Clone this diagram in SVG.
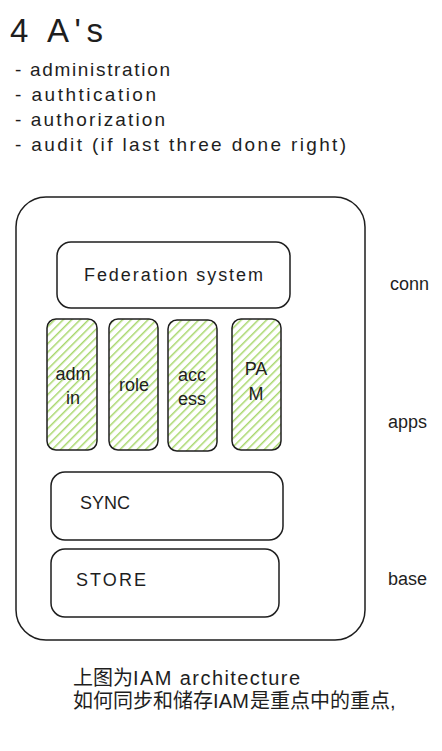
<svg xmlns="http://www.w3.org/2000/svg" width="442" height="751" viewBox="0 0 442 751">
<defs>
<pattern id="hatch" patternUnits="userSpaceOnUse" width="6" height="6" patternTransform="rotate(45)">
<rect width="6" height="6" fill="#ffffff"/>
<line x1="0" y1="0" x2="0" y2="6" stroke="#a9d86e" stroke-width="3"/>
</pattern>
</defs>
<style>
.box{fill:#ffffff;stroke:#1e1e1e;stroke-width:1.5}
.app{fill:url(#hatch);stroke:#1e1e1e;stroke-width:1.5}
text{font-family:"Liberation Sans","Noto Sans CJK SC",sans-serif;fill:#1e1e1e}
.t{font-size:18px}
.l{font-size:19px}
.c{text-anchor:middle}
.n{font-size:20px}
</style>
<rect width="442" height="751" fill="#ffffff"/>
<g id="title">
<text x="10" y="42" style="font-size:33px" textLength="93" lengthAdjust="spacing">4 A's</text>
<text class="l" x="15" y="76" textLength="155" lengthAdjust="spacing">- administration</text>
<text class="l" x="15" y="101" textLength="141" lengthAdjust="spacing">- authtication</text>
<text class="l" x="15" y="126" textLength="150" lengthAdjust="spacing">- authorization</text>
<text class="l" x="15" y="151" textLength="331" lengthAdjust="spacing">- audit (if last three done right)</text>
</g>
<g id="connectors"></g>
<g id="outer"><rect class="box" x="16" y="197" width="349" height="443" rx="30"/></g>
<g id="federation"><rect class="box" x="57" y="242" width="233" height="66" rx="14"/>
<text class="t" x="84" y="281" textLength="179" lengthAdjust="spacing">Federation system</text></g>
<g id="admin"><rect class="app" x="47" y="319" width="50" height="131" rx="9"/>
<text class="t c" x="73" y="380">adm</text><text class="t c" x="73" y="404">in</text></g>
<g id="role"><rect class="app" x="109" y="319" width="49" height="131" rx="9"/>
<text class="t c" x="134" y="391">role</text></g>
<g id="access"><rect class="app" x="168" y="320" width="49" height="131" rx="9"/>
<text class="t c" x="192" y="381">acc</text><text class="t c" x="192" y="405">ess</text></g>
<g id="pam"><rect class="app" x="232" y="319" width="49" height="131" rx="9"/>
<text class="t c" x="256" y="375">PA</text><text class="t c" x="256" y="400">M</text></g>
<g id="sync"><rect class="box" x="51" y="472" width="232" height="68" rx="14"/>
<text class="t" x="80" y="509">SYNC</text></g>
<g id="store"><rect class="box" x="51" y="549" width="228" height="68" rx="14"/>
<text class="t" x="76" y="586" textLength="70" lengthAdjust="spacing">STORE</text></g>
<g id="labels">
<text class="t" x="390" y="290">conn</text>
<text class="t" x="388" y="428">apps</text>
<text class="t" x="388" y="585">base</text>
</g>
<g id="note">
<text class="n" x="73" y="685">上图为</text>
<text class="n" x="133" y="685" textLength="167" lengthAdjust="spacing">IAM architecture</text>
<text class="n" x="73" y="708">如何同步和储存</text>
<text class="n" x="213" y="708" textLength="36" lengthAdjust="spacing">IAM</text>
<text class="n" x="250" y="708">是重点中的重点,</text>
</g>
</svg>
